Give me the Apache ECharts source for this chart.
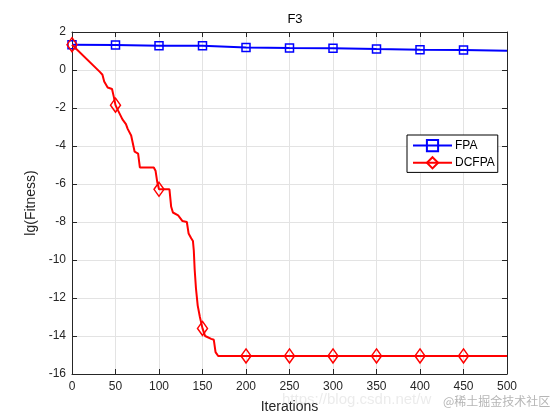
<!DOCTYPE html>
<html>
<head>
<meta charset="utf-8">
<script src="https://cdn.jsdelivr.net/npm/echarts@6/dist/echarts.min.js"></script>
<style>html,body{margin:0;padding:0;background:#fff}#c{width:560px;height:420px}</style>
</head>
<body>
<div id="c"></div>
<script>
// ---- data ----
const xTicks = [0, 50, 100, 150, 200, 250, 300, 350, 400, 450, 500];
const yTicks = [-16, -14, -12, -10, -8, -6, -4, -2, 0, 2];

const fpaX = [0, 50, 100, 150, 200, 250, 300, 350, 400, 450, 500];
const fpaY = [1.33, 1.32, 1.28, 1.27, 1.19, 1.16, 1.15, 1.10, 1.06, 1.05, 1.01];

const dcfpaX = [0, 32, 35, 37, 41, 46, 48, 50, 53, 58, 62, 64, 68, 70, 72, 76, 78, 94, 96, 98, 100,
  112, 114, 116, 122, 127, 132, 134, 137, 139, 140, 141, 142.5, 144.5, 147, 150, 153, 160, 163, 165, 168,
  200, 250, 300, 350, 400, 450, 500];
const dcfpaY = [1.33, -0.1, -0.25, -0.6, -0.92, -1.0, -1.4, -1.85, -2.14, -2.6, -2.85, -3.1, -3.45, -3.55, -4.3, -4.4, -5.13, -5.13, -5.3, -5.9, -6.28,
  -6.28, -7.2, -7.5, -7.65, -7.95, -8.0, -8.6, -8.85, -9.0, -9.5, -10.5, -11.5, -12.4, -13.0, -13.6, -14.0, -14.15, -14.2, -14.85, -15.05,
  -15.05, -15.05, -15.05, -15.05, -15.05, -15.05, -15.05];

const markerX = [0, 50, 100, 150, 200, 250, 300, 350, 400, 450];
const seriesNames = ['FPA', 'DCFPA'];

function build(xs, ys) {
  return xs.map((x, i) => markerX.indexOf(x) >= 0
    ? { value: [x, ys[i]] }
    : { value: [x, ys[i]], symbol: 'none' });
}

const chart = echarts.init(document.getElementById('c'), null, { renderer: 'canvas' });
const font = 'Liberation Sans, Arial, Helvetica, sans-serif';
const axisCol = '#262626';

const axisCommon = {
  type: 'value',
  axisLine: { show: true, onZero: false, lineStyle: { color: axisCol, width: 1 } },
  axisTick: { show: true, inside: true, length: 5, lineStyle: { color: axisCol } },
};

chart.setOption({
  animation: false,
  backgroundColor: '#fff',
  title: {
    text: 'F3', left: 290, top: 8, textAlign: 'center',
    textStyle: { fontFamily: font, fontSize: 13, fontWeight: 'normal', color: '#000' }
  },
  grid: { left: 72, right: 53, top: 32, bottom: 46, containLabel: false },
  legend: {
    data: seriesNames,
    orient: 'vertical',
    left: 407, top: 135,
    padding: [4, 3, 3, 5],
    itemGap: 4,
    itemWidth: 39, itemHeight: 14,
    backgroundColor: '#fff',
    borderColor: '#000', borderWidth: 1, borderRadius: 0,
    textStyle: { fontFamily: font, fontSize: 12, color: '#000', padding: [0, 0, 0, -2] }
  },
  xAxis: [
    Object.assign({}, axisCommon, {
      min: 0, max: 500, interval: 50,
      name: 'Iterations', nameLocation: 'middle', nameGap: 26,
      nameTextStyle: { fontFamily: font, fontSize: 14, color: axisCol },
      axisLabel: { fontFamily: font, fontSize: 12, color: axisCol, margin: 7,
        formatter: v => xTicks.indexOf(v) >= 0 ? String(v) : '' },
      splitLine: { show: true, lineStyle: { color: '#e3e3e3', width: 1 } }
    }),
    Object.assign({}, axisCommon, {
      position: 'top', min: 0, max: 500, interval: 50,
      axisLabel: { show: false }, splitLine: { show: false }
    })
  ],
  yAxis: [
    Object.assign({}, axisCommon, {
      min: -16, max: 2, interval: 2,
      name: 'lg(Fitness)', nameLocation: 'middle', nameGap: 26, nameRotate: 90,
      nameTextStyle: { fontFamily: font, fontSize: 14, color: axisCol },
      axisLabel: { fontFamily: font, fontSize: 12, color: axisCol, margin: 6,
        formatter: v => yTicks.indexOf(v) >= 0 ? String(v) : '' },
      splitLine: { show: true, lineStyle: { color: '#e3e3e3', width: 1 } }
    }),
    Object.assign({}, axisCommon, {
      position: 'right', min: -16, max: 2, interval: 2,
      axisLabel: { show: false }, splitLine: { show: false }
    })
  ],
  series: [
    {
      name: seriesNames[0], type: 'line', xAxisIndex: 0, yAxisIndex: 0,
      data: build(fpaX, fpaY),
      showAllSymbol: true,
      symbol: 'rect', symbolSize: 8,
      lineStyle: { color: '#0000ff', width: 2 },
      itemStyle: { color: 'rgba(255,255,255,0)', borderColor: '#0000ff', borderWidth: 1.5 },
      z: 3
    },
    {
      name: seriesNames[1], type: 'line', xAxisIndex: 0, yAxisIndex: 0,
      data: build(dcfpaX, dcfpaY),
      showAllSymbol: true,
      symbol: 'diamond', symbolSize: [10, 14],
      lineStyle: { color: '#ff0000', width: 2 },
      itemStyle: { color: 'rgba(255,255,255,0)', borderColor: '#ff0000', borderWidth: 1.5 },
      z: 4
    }
  ],
  graphic: [
    { type: 'text', left: 282, top: 392, z: 100,
      style: { text: 'https://blog.csdn.net/w', fontFamily: font, fontSize: 15, fill: 'rgba(190,190,190,0.3)' } },
    { type: 'text', left: 443, top: 395, z: 100,
      style: { text: '@稀土掘金技术社区', fontFamily: 'Noto Sans CJK SC, sans-serif', fontSize: 12, fill: 'rgba(150,150,150,0.7)' } }
  ]
});
</script>
</body>
</html>
